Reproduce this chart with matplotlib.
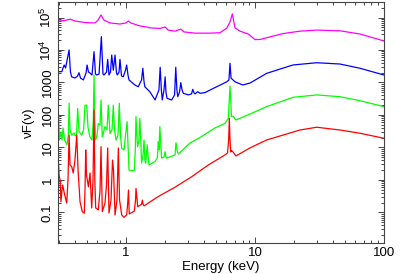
import matplotlib
matplotlib.use("Agg")
import matplotlib.pyplot as plt
from matplotlib.ticker import FixedLocator, LogLocator, NullFormatter

plt.rcParams['font.family'] = ['Liberation Sans', 'DejaVu Sans']
plt.rcParams['mathtext.fontset'] = 'custom'
plt.rcParams['mathtext.rm'] = 'Liberation Sans'
plt.rcParams['mathtext.it'] = 'Liberation Sans:italic'

# ---------------- data (keV, nuF(nu)) ----------------
mag_E = [0.297, 0.337, 0.368, 0.402, 0.481, 0.575, 0.607, 0.640, 0.675, 0.752,
         0.898, 1.0, 1.04, 1.09, 1.28, 1.45, 1.53, 1.83, 2.01, 2.12, 2.40, 2.66,
         2.82, 3.43, 4.48, 5.35, 6.04, 6.40, 6.67, 7.0, 7.65, 8.87, 10.0, 10.9,
         16.5, 22.3, 30.1, 45.6, 65.2, 100]
mag_F = [7.8e4, 8.1e4, 8.9e4, 7.8e4, 7.0e4, 6.8e4, 8.3e4, 1.2e5, 8.3e4, 6.8e4,
         6.3e4, 6.8e4, 7.8e4, 6.8e4, 5.5e4, 5.1e4, 4.8e4, 4.6e4, 5.1e4, 4.1e4,
         3.8e4, 4.4e4, 3.6e4, 3.3e4, 3.3e4, 3.4e4, 4.7e4, 7.3e4, 1.29e5, 4.8e4,
         3.8e4, 3.1e4, 2.1e4, 2.1e4, 3.2e4, 3.8e4, 4.1e4, 3.9e4, 3.1e4, 1.9e4]

blu_E = [0.297, 0.318, 0.325, 0.332, 0.340, 0.362, 0.371, 0.379, 0.402, 0.421,
         0.432, 0.444, 0.467, 0.490, 0.499, 0.512, 0.526, 0.545, 0.565, 0.580,
         0.593, 0.618, 0.644, 0.663, 0.675, 0.706, 0.721, 0.738, 0.758, 0.775,
         0.797, 0.822, 0.844, 0.857, 0.883, 0.898, 0.923, 0.953, 0.991, 1.012,
         1.036, 1.055, 1.17, 1.245, 1.32, 1.35, 1.38, 1.40, 1.53, 1.68, 1.80,
         1.84, 1.88, 1.91, 1.97, 2.01, 2.04, 2.08, 2.26, 2.38, 2.43, 2.48, 2.52,
         2.60, 2.66, 2.72, 2.78, 3.04, 3.22, 3.29, 3.37, 3.43, 3.59, 3.75, 4.10,
         4.90, 6.04, 6.28, 6.40, 6.52, 6.75, 7.0, 8.03, 9.14, 12.3, 19.7, 30.1,
         45.6, 65.2, 100]
blu_F = [2150, 2150, 2800, 3450, 2800, 1.0e4, 2100, 1500, 1370, 1580,
         2000, 1370, 1200, 1950, 3450, 2100, 1950, 1700, 8900, 1820,
         1700, 1820, 2.57e4, 1820, 1700, 2100, 5150, 1700, 2100, 7000,
         2400, 7000, 1950, 1700, 2100, 5150, 1580, 1500, 2400, 3450,
         1700, 1200, 840, 740, 1200, 2740, 1040, 740, 520, 290, 590,
         2940, 590, 290, 590, 1500, 510, 325, 290, 415, 2940, 590, 365,
         510, 990, 590, 465, 415, 445, 615, 475, 445, 520, 465, 490,
         700, 1050, 1200, 3900, 1370, 1200, 1050, 840, 960, 1910, 3460, 4060,
         3700, 2740, 1700]

grn_E = [0.297, 0.305, 0.313, 0.319, 0.325, 0.334, 0.349, 0.357, 0.362, 0.368,
         0.379, 0.395, 0.413, 0.422, 0.432, 0.454, 0.469, 0.481, 0.496, 0.508,
         0.526, 0.545, 0.558, 0.565, 0.573, 0.582, 0.596, 0.610, 0.629, 0.640,
         0.655, 0.687, 0.712, 0.729, 0.752, 0.779, 0.797, 0.814, 0.837, 0.867,
         0.887, 0.906, 0.926, 0.965, 0.991, 1.02, 1.055, 1.09, 1.16, 1.18,
         1.195, 1.22, 1.23, 1.26, 1.28, 1.31, 1.32, 1.355, 1.38, 1.40, 1.42,
         1.46, 1.49, 1.51, 1.68, 1.75, 1.78, 1.80, 1.83, 1.87, 1.89, 1.97,
         2.01, 2.04, 2.07, 2.40, 2.44, 2.50, 2.55, 3.13, 3.75, 4.90, 5.85,
         6.21, 6.32, 6.40, 6.48, 6.57, 6.75, 7.12, 9.14, 12.3, 19.7, 30.1,
         45.6, 65.2, 100]
grn_F = [290, 17, 30, 17, 40, 17, 12, 24, 230, 35,
         24, 28, 21, 160, 31, 24, 35, 200, 200, 40,
         21, 17, 70, 1700, 70, 17, 24, 55, 49, 290,
         21, 44, 35, 200, 27, 35, 200, 35, 17, 24,
         230, 24, 9.4, 8.4, 24, 62, 2.0, 1.9, 2.0, 8.4,
         89, 17, 10.6, 17, 79, 8.4, 3.3, 5.9, 17, 4.1, 3.3,
         12, 4.1, 2.9, 3.7, 4.8, 15, 8.4, 44, 8.4, 4.7, 5.1,
         7.4, 5.1, 4.7, 5.9, 14, 7.4, 6.3, 13.7, 20.3, 40, 55,
         79, 290, 780, 290, 89, 93, 70, 107, 180, 350, 415,
         365, 275, 180]

red_E = [0.297, 0.303, 0.308, 0.313, 0.319, 0.323, 0.332, 0.347, 0.355, 0.362,
         0.368, 0.379, 0.390, 0.402, 0.415, 0.425, 0.440, 0.458, 0.475, 0.481,
         0.487, 0.494, 0.511, 0.526, 0.542, 0.555, 0.565, 0.573, 0.582, 0.610,
         0.629, 0.640, 0.655, 0.687, 0.706, 0.721, 0.738, 0.765, 0.786, 0.80,
         0.822, 0.851, 0.872, 0.891, 0.926, 0.965, 1.012, 1.03, 1.045, 1.06,
         1.16, 1.185, 1.195, 1.22, 1.23, 1.32, 1.34, 1.355, 1.38, 1.78, 2.40,
         3.23, 4.35, 5.85, 6.12, 6.25, 6.32, 6.40, 6.49, 6.60, 6.75, 7.12,
         9.14, 12.3, 22.3, 30.1, 45.6, 65.2, 100]
red_F = [6.8, 1.4, 1.0, 0.215, 0.49, 0.70, 0.40, 0.195, 1.0, 24,
         2.9, 2.6, 1.64, 4.1, 24, 2.0, 0.215, 0.106, 0.095, 0.49,
         8.4, 1.4, 0.62, 1.64, 0.138, 1.0, 142, 1.0, 0.138, 0.12,
         0.49, 10.6, 0.106, 0.195, 0.70, 9.7, 0.096, 0.24, 4.1, 2.0,
         0.084, 0.24, 9.7, 0.24, 0.084, 0.071, 0.084, 0.19, 0.49, 0.090,
         0.11, 0.24, 0.55, 0.24, 0.15, 0.18, 0.24, 0.18, 0.16, 0.31, 0.60,
         1.26, 2.9, 5.9, 6.8, 17, 79, 17, 7.3, 8.0, 7.3, 5.5,
         9.7, 17, 34.5, 42, 34.5, 27.4, 19.2]

x_ticks = [1, 10, 100]
x_labels = ['1', '10', '100']
y_ticks = [0.1, 1, 10, 100, 1000, 1e4, 1e5]
y_labels = ['0.1', '1', '10', '100', '1000', r'$10^4$', r'$10^5$']

# ---------------- figure ----------------
fig = plt.figure(figsize=(4.01, 2.74), dpi=100)
ax = fig.add_axes([58/401, 1-243/274, (384-58)/401, (243-2)/274])

lw = 0.9
ax.plot(mag_E, mag_F, color='#ff00ff', lw=lw)
ax.plot(blu_E, blu_F, color='#0000ff', lw=lw)
ax.plot(grn_E, grn_F, color='#00ff00', lw=lw)
ax.plot(red_E, red_F, color='#ff0000', lw=lw)

ax.set_xscale('log')
ax.set_yscale('log')
ax.set_xlim(0.297, 100)
ax.set_ylim(0.0115, 3.0e5)

ax.xaxis.set_major_locator(FixedLocator(x_ticks))
ax.set_xticklabels(x_labels)
ax.yaxis.set_major_locator(FixedLocator(y_ticks))
ax.set_yticklabels(y_labels, rotation=90, va='center')
ax.xaxis.set_minor_locator(LogLocator(base=10, subs=range(2, 10), numticks=20))
ax.yaxis.set_minor_locator(LogLocator(base=10, subs=range(2, 10), numticks=20))
ax.xaxis.set_minor_formatter(NullFormatter())
ax.yaxis.set_minor_formatter(NullFormatter())

fc = '#444444'
for s in ax.spines.values():
    s.set_color(fc)
    s.set_linewidth(0.8)
fs = 9.5
ax.tick_params(which='both', direction='in', top=True, right=True, colors=fc,
               labelcolor='black', labelsize=fs, width=0.7)
ax.tick_params(which='major', length=4.5, pad=3)
ax.tick_params(which='minor', length=2.3)
ax.tick_params(axis='y', which='major', pad=3)

ax.set_xlabel('Energy (keV)', fontsize=fs, labelpad=1)
ax.set_ylabel('νF(ν)', fontsize=fs, labelpad=3)

fig.savefig('out.png', dpi=100)
